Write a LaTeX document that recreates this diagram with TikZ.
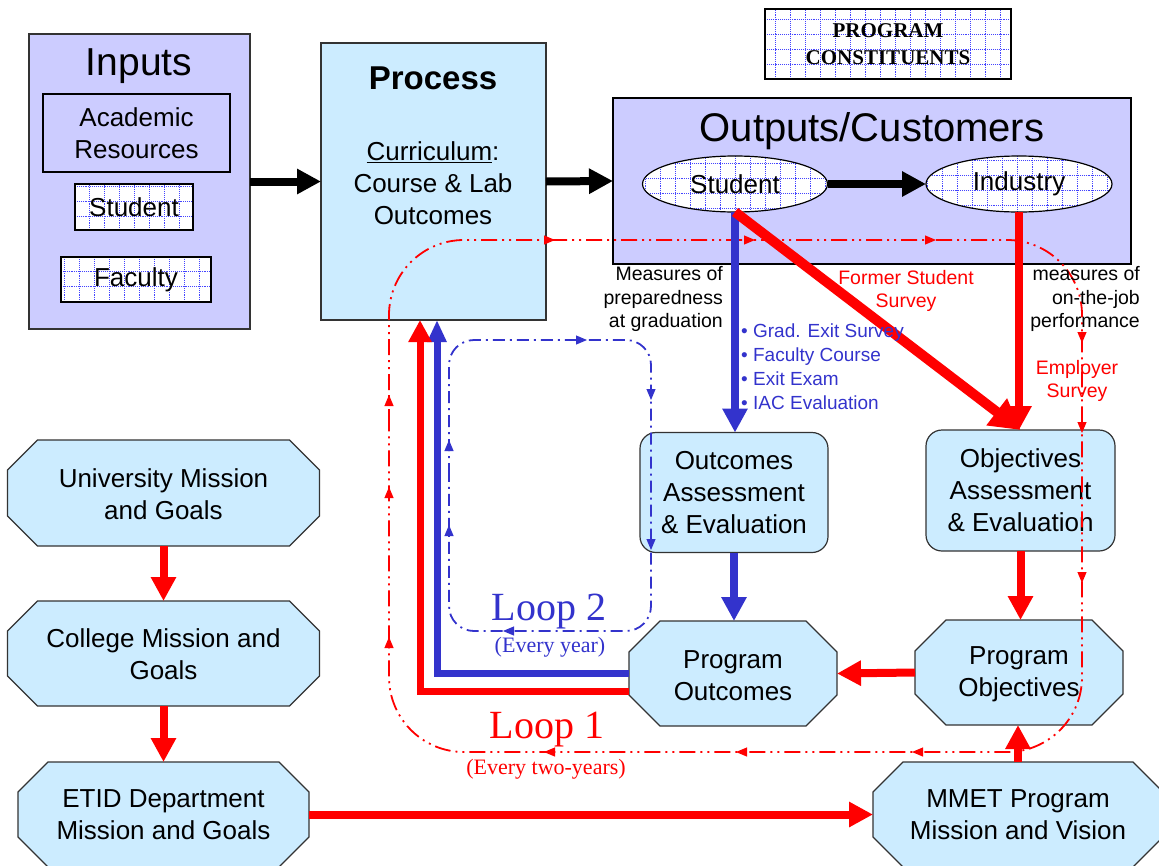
\documentclass[tikz,border=0pt]{standalone}
\usepackage{fontspec}
\setmainfont{Liberation Sans}
\newfontfamily\seriffont{Liberation Serif}
\usetikzlibrary{arrows.meta,shapes.geometric,calc}

\definecolor{lav}{HTML}{CCCCFF}
\definecolor{lblue}{HTML}{CCECFF}
\definecolor{myred}{HTML}{FF0000}
\definecolor{myblue}{HTML}{3333CC}
\definecolor{edge}{HTML}{333333}
\definecolor{gridblue}{HTML}{4444FF}

\newcommand\fs[2]{\fontsize{#1}{#2}\selectfont}
\newcommand\octagonshape[2]{%
  \filldraw[draw=edge, line width=1.2pt, fill=lblue]
    ([xshift=#2]#1.north west) -- ([xshift=-#2]#1.north east) --
    ([yshift=-#2]#1.north east) -- ([yshift=#2]#1.south east) --
    ([xshift=-#2]#1.south east) -- ([xshift=#2]#1.south west) --
    ([yshift=#2]#1.south west) -- ([yshift=-#2]#1.north west) -- cycle;}

\tikzset{
  box/.style={draw=edge, line width=1.2pt, inner sep=0pt, outer sep=0pt},
  lavbox/.style={box, fill=lav, rectangle},
  procbox/.style={box, fill=lblue},
  gridbox/.style={draw=black, line width=1.2pt, fill=white, inner sep=0pt, outer sep=0pt,
    path picture={\draw[gridblue, densely dotted, line width=0.9pt]
      (path picture bounding box.south west) grid[step=15pt] (path picture bounding box.north east);}},
  octbox/.style={rectangle, inner sep=0pt, outer sep=0pt},
  roundbox/.style={box, fill=lblue, rounded corners=16pt},
  txt/.style={font=\fs{26}{32}, align=center, inner sep=0pt},
  smalltxt/.style={font=\fs{19.5}{23.5}, inner sep=0pt},
  looptxt/.style={font=\seriffont\fs{40}{44}, inner sep=0pt},
  loopsub/.style={font=\seriffont\fs{22}{24}, inner sep=0pt},
  blackarrow/.style={draw=black, line width=8pt, -{Triangle[width=24pt,length=24pt]}},
  redarrow/.style={draw=myred, line width=8pt, -{Triangle[width=24pt,length=24pt]}},
  bigred/.style={draw=myred, line width=10pt, -{Triangle[width=32pt,length=30pt]}},
  bluearrow/.style={draw=myblue, line width=8pt, -{Triangle[width=24pt,length=24pt]}},
  fbred/.style={draw=myred, line width=7pt, -{Triangle[width=22pt,length=22pt]}},
  fbblue/.style={draw=myblue, line width=7pt, -{Triangle[width=18pt,length=22pt]}},
  redloop/.style={draw=myred, line width=1.8pt, dash pattern=on 16pt off 5pt on 2pt off 5pt on 2pt off 5pt, rounded corners=75pt},
  blueloop/.style={draw=myblue, line width=1.8pt, dash pattern=on 12pt off 5pt on 2pt off 5pt, rounded corners=25pt},
  redmark/.style={draw=myred, line width=1pt, -{Triangle[width=9pt,length=11pt]}},
  bluemark/.style={draw=myblue, line width=1pt, -{Triangle[width=9pt,length=11pt]}},
}

\begin{document}
\begin{tikzpicture}[x=1pt,y=-1pt]
\useasboundingbox (0,0) rectangle (1159,865);
\clip (0,0) rectangle (1159,865);

% Inputs
\node[lavbox, minimum width=221pt, minimum height=295pt] (Inputs) at (139.5,181.5) {};
\node[txt, font=\fs{39}{44}] (InputsT) at (139,66) {Inputs};
\node[lavbox, draw=black, txt, minimum width=187pt, minimum height=78pt] (Acad) at (136.5,133) {Academic\\Resources};
\node[gridbox, txt, minimum width=118pt, minimum height=46pt] (StuIn) at (134,207) {Student};
\node[gridbox, txt, minimum width=150pt, minimum height=45pt] (Fac) at (136,279.5) {Faculty};

% Process
\node[procbox, minimum width=225pt, minimum height=277pt] (Process) at (433.5,181.5) {};
\node[txt, font=\bfseries\fs{33}{38}] (ProcT) at (433,78) {Process};
\node[txt] (ProcB) at (433,183) {\underline{Curriculum}:\\Course \& Lab\\Outcomes};

% Constituents
\node[gridbox, txt, font=\seriffont\bfseries\fs{21}{27}, minimum width=246pt, minimum height=70pt] (Const) at (888,44) {PROGRAM\\CONSTITUENTS};

% Outputs
\node[lavbox, draw=black, minimum width=518pt, minimum height=166pt] (Outputs) at (872,181) {};
\node[txt, font=\fs{40}{44}] (OutT) at (872,131) {Outputs/Customers};
\node[gridbox, ellipse, txt, minimum width=185pt, minimum height=56pt] (StuOut) at (735,184) {Student};
\node[gridbox, ellipse, txt, minimum width=186pt, minimum height=56pt] (Ind) at (1019,184) {Industry};

% Assessment boxes
\node[roundbox, txt, minimum width=188pt, minimum height=120pt] (OutAss) at (734,492.5) {Outcomes\\Assessment\\\& Evaluation};
\node[roundbox, txt, minimum width=189pt, minimum height=121pt] (ObjAss) at (1020.5,490.5) {Objectives\\Assessment\\\& Evaluation};

% Octagons
\node[octbox, minimum width=208pt, minimum height=105pt] (ProgOut) at (733,673.5) {};
\octagonshape{ProgOut}{31pt}
\node[txt] (ProgOutT) at (733,675.5) {Program\\Outcomes};

\node[octbox, minimum width=208pt, minimum height=105pt] (ProgObj) at (1019,672.5) {};
\octagonshape{ProgObj}{31pt}
\node[txt] (ProgObjT) at (1019,674.5) {Program\\Objectives};

\node[octbox, minimum width=312pt, minimum height=106pt] (Univ) at (163.5,493) {};
\octagonshape{Univ}{30pt}
\node[txt] (UnivT) at (163.5,494) {University Mission\\and Goals};

\node[octbox, minimum width=312pt, minimum height=105pt] (College) at (163.5,653.5) {};
\octagonshape{College}{30pt}
\node[txt] (CollegeT) at (163.5,654) {College Mission and\\Goals};

\node[octbox, minimum width=291pt, minimum height=105pt] (ETID) at (163.5,814.5) {};
\octagonshape{ETID}{30pt}
\node[txt] (ETIDT) at (163.5,814.5) {ETID Department\\Mission and Goals};

\node[octbox, minimum width=290pt, minimum height=105pt] (MMET) at (1018,814.5) {};
\octagonshape{MMET}{30pt}
\node[txt] (MMETT) at (1018,814.5) {MMET Program\\Mission and Vision};

% Loops
\draw[redloop] (389,500) -- (389,240) -- (1082,240) -- (1082,752) -- (389,752) -- cycle;
\draw[blueloop] (449,500) -- (449,340) -- (651,340) -- (651,631) -- (449,631) -- cycle;
\foreach \x in {555,755,936} \draw[redmark] (\x-10,240) -- (\x,240);
\foreach \y in {343,433,583} \draw[redmark] (1082,\y-10) -- (1082,\y);
\foreach \x in {544,736,912} \draw[redmark] (\x+10,752) -- (\x,752);
\foreach \y in {395,487,637} \draw[redmark] (389,\y+10) -- (389,\y);
\draw[bluemark] (577,340) -- (587,340);
\foreach \y in {400,550} \draw[bluemark] (651,\y-10) -- (651,\y);
\draw[bluemark] (513,631) -- (503,631);
\foreach \y in {440,525} \draw[bluemark] (449,\y+10) -- (449,\y);

% Main connectors
\draw[blackarrow] (Inputs.east) -- (Process.west);
\draw[blackarrow] (Process.east) -- (Outputs.west);
\draw[blackarrow] (StuOut.east) -- (Ind.west);
\draw[bluearrow] (StuOut.south) -- (StuOut.south |- OutAss.north);
\draw[bigred] (StuOut.south) -- (ObjAss.north);
\draw[redarrow] (Ind.south) -- (Ind.south |- ObjAss.north);
\draw[bluearrow] (OutAss.south) -- (OutAss.south |- ProgOut.north);
\draw[redarrow] (ObjAss.south) -- (ObjAss.south |- ProgObj.north);
\draw[redarrow] (ProgObj.west) -- (ProgOut.east);
\draw[redarrow] (MMET.north) -- (MMET.north |- ProgObj.south);
\draw[redarrow] (Univ.south) -- (College.north);
\draw[redarrow] (College.south) -- (ETID.north);
\draw[redarrow] (ETID.east) -- (MMET.west);
\draw[fbblue] (ProgOut.west) -| ([xshift=3.5pt]Process.south);
\draw[fbred] ([yshift=-17.5pt]ProgOut.west) -| ([xshift=-13.5pt]Process.south);

% Labels
\node[smalltxt, align=right, anchor=east] (MeasPrep) at (723,299) {Measures of\\preparedness\\at graduation};
\node[smalltxt, align=center, text=myred] (FormerS) at (906,291) {Former Student\\Survey};
\node[smalltxt, align=right, anchor=east] (MeasJob) at (1140,299) {measures of\\on-the-job\\performance};
\node[smalltxt, align=center, text=myred] (EmpS) at (1077,381) {Employer\\Survey};
\node[smalltxt, align=left, anchor=west, text=myblue, font=\fs{19}{24}] (Bullets) at (741,367) {• Grad. Exit Survey\\• Faculty Course\\• Exit Exam\\• IAC Evaluation};

\node[looptxt, text=myblue] (L2) at (549,612) {Loop 2};
\node[loopsub, text=myblue] (L2s) at (550,647) {(Every year)};
\node[looptxt, text=myred] (L1) at (547,730) {Loop 1};
\node[loopsub, text=myred] (L1s) at (546,769) {(Every two-years)};
\end{tikzpicture}
\end{document}
